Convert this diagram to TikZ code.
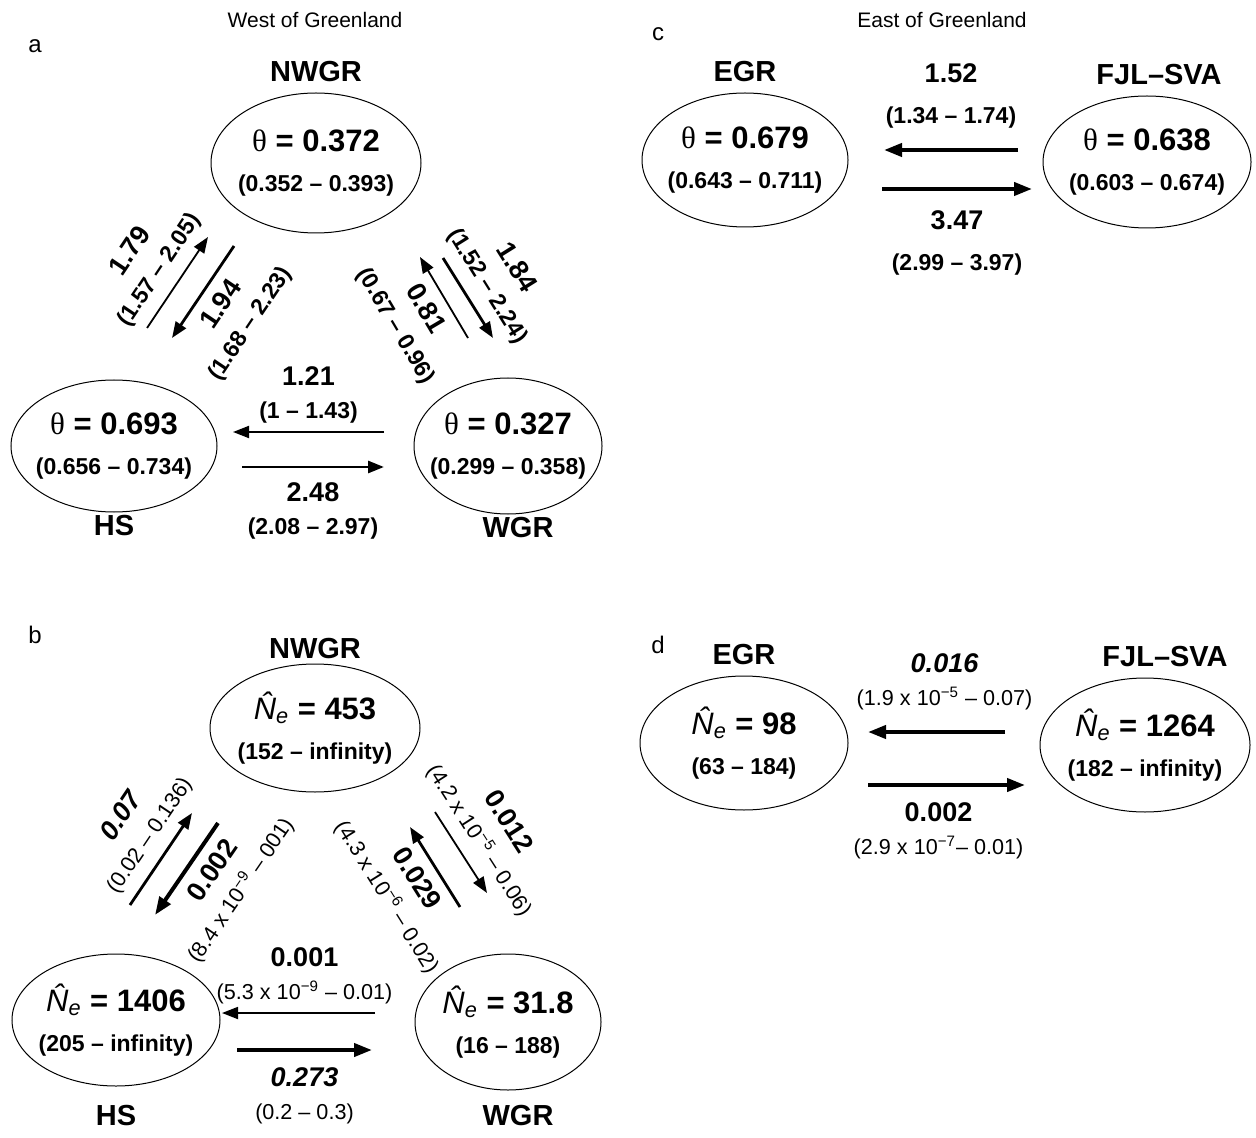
\documentclass[tikz,border=0pt]{standalone}
\usepackage{fontspec}
\setmainfont{Liberation Sans}
\newfontfamily\grkfont{Liberation Serif}
\usetikzlibrary{shapes.geometric, arrows.meta, positioning, calc}

\newcommand{\nehat}{{\mdseries\itshape\^{N}\textsubscript{e}}}
\newcommand{\thetasym}{{\mdseries\grkfont θ}}
\newcommand{\rngb}[1]{{\fontsize{11.5}{16}\selectfont\bfseries #1}}
\newcommand{\rngn}[1]{{\fontsize{10.8}{16}\selectfont\mdseries #1}}
\newcommand{\tenp}[1]{10\textsuperscript{#1}}

\begin{document}
\begin{tikzpicture}[
    x=0.5pt, y=-0.5pt,
    pop/.style={ellipse, draw=black, line width=0.5pt, inner sep=-8pt, align=center, font=\fontsize{15.5}{20}\selectfont\bfseries},
    popname/.style={font=\fontsize{14.5}{16}\selectfont\bfseries, inner sep=1pt},
    region/.style={font=\fontsize{10.5}{12}\selectfont},
    panel/.style={font=\fontsize{12}{14}\selectfont},
    rate/.style={align=center, inner sep=2pt, font=\fontsize{13.5}{16.5}\selectfont\bfseries},
    flow/.style={-{Triangle[length=9pt,width=6.5pt]}, line width=2pt},
    midflow/.style={-{Triangle[length=8pt,width=6pt]}, line width=1.4pt},
    weakflow/.style={-{Triangle[length=8pt,width=6pt]}, line width=0.9pt}
  ]
  \useasboundingbox (0,0) rectangle (1256,1138);

  % headings
  \node[region] (west) at (315,20) {West of Greenland};
  \node[region] (east) at (942,20) {East of Greenland};
  \node[panel] (pa) at (35,46) {a};
  \node[panel] (pb) at (35,635) {b};
  \node[panel] (pc) at (658,34) {c};
  \node[panel] (pd) at (658,645) {d};

  % panel a
  \node[pop, minimum width=105pt, minimum height=70pt] (nwgrA) at (316,163) {\thetasym{} = 0.372\\\rngb{(0.352 -- 0.393)}};
  \node[pop, minimum width=103pt, minimum height=66pt] (hsA) at (114,446) {\thetasym{} = 0.693\\\rngb{(0.656 -- 0.734)}};
  \node[pop, minimum width=94pt, minimum height=68pt] (wgrA) at (508,446) {\thetasym{} = 0.327\\\rngb{(0.299 -- 0.358)}};
  \node[popname, above=4pt of nwgrA] (nwgrAlab) {NWGR};
  \node[popname, below=0pt of hsA] (hsAlab) {HS};
  \node[popname, below=0pt of wgrA, xshift=5pt] (wgrAlab) {WGR};

  \coordinate (ta1) at (147,328); \coordinate (ha1) at (208,237);
  \coordinate (ta2) at (234,246); \coordinate (ha2) at (172,338);
  \coordinate (ta3) at (468,338); \coordinate (ha3) at (420,257);
  \coordinate (ta4) at (443,258); \coordinate (ha4) at (493,338);
  \coordinate (ta5) at (384,432); \coordinate (ha5) at (233,432);
  \coordinate (ta6) at (242,467); \coordinate (ha6) at (384,467);

  \draw[weakflow] (ta1) -- node[rate, sloped, above, inner sep=5pt] {1.79\\\rngb{(1.57 -- 2.05)}} (ha1);
  \draw[midflow] (ta2) -- node[rate, sloped, below, inner sep=5pt] {1.94\\\rngb{(1.68 -- 2.23)}} (ha2);
  \draw[weakflow] (ta3) -- node[rate, sloped, below, inner sep=5pt] {0.81\\\rngb{(0.67 -- 0.96)}} (ha3);
  \draw[midflow] (ta4) -- node[rate, sloped, above, inner sep=5pt] {1.84\\\rngb{(1.52 -- 2.24)}} (ha4);
  \draw[weakflow] (ta5) -- node[rate, above=2pt] {1.21\\\rngb{(1 -- 1.43)}} (ha5);
  \draw[midflow] (ta6) -- node[rate, below=5pt] {2.48\\\rngb{(2.08 -- 2.97)}} (ha6);

  % panel c
  \node[pop, minimum width=103pt, minimum height=67pt] (egrC) at (745,160) {\thetasym{} = 0.679\\\rngb{(0.643 -- 0.711)}};
  \node[pop, minimum width=104pt, minimum height=66pt] (fjlC) at (1147,162) {\thetasym{} = 0.638\\\rngb{(0.603 -- 0.674)}};
  \node[popname, above=4pt of egrC] (egrClab) {EGR};
  \node[popname, above=4pt of fjlC, xshift=6pt] (fjlClab) {FJL--SVA};

  \coordinate (tc1) at (1018,150); \coordinate (hc1) at (884,150);
  \coordinate (tc2) at (882,189); \coordinate (hc2) at (1032,189);

  \draw[flow] (tc1) -- node[rate, above=8pt] {1.52\\[4pt]\rngb{(1.34 -- 1.74)}} (hc1);
  \draw[flow] (tc2) -- node[rate, below=8pt] {3.47\\[4pt]\rngb{(2.99 -- 3.97)}} (hc2);

  % panel b
  \node[pop, minimum width=105pt, minimum height=64pt] (nwgrB) at (315,728) {\nehat{} = 453\\\rngb{(152 -- infinity)}};
  \node[pop, minimum width=104pt, minimum height=66pt] (hsB) at (116,1020) {\nehat{} = 1406\\\rngb{(205 -- infinity)}};
  \node[pop, minimum width=93pt, minimum height=68pt] (wgrB) at (508,1022) {\nehat{} = 31.8\\\rngb{(16 -- 188)}};
  \node[popname, above=1pt of nwgrB] (nwgrBlab) {NWGR};
  \node[popname, below=8pt of hsB] (hsBlab) {HS};
  \node[popname, below=6pt of wgrB, xshift=5pt] (wgrBlab) {WGR};

  \coordinate (tb1) at (130,905); \coordinate (hb1) at (192,813);
  \coordinate (tb2) at (218,823); \coordinate (hb2) at (155,915);
  \coordinate (tb3) at (460,907); \coordinate (hb3) at (410,827);
  \coordinate (tb4) at (435,812); \coordinate (hb4) at (487,893);
  \coordinate (tb5) at (375,1013); \coordinate (hb5) at (222,1013);
  \coordinate (tb6) at (237,1050); \coordinate (hb6) at (372,1050);

  \draw[midflow] (tb1) -- node[rate, sloped, above, inner sep=5pt, pos=0.62] {\itshape 0.07\\\rngn{(0.02 -- 0.136)}} (hb1);
  \draw[flow] (tb2) -- node[rate, sloped, below, inner sep=5pt, pos=0.38] {0.002\\\rngn{(8.4 x \tenp{−9} -- 001)}} (hb2);
  \draw[midflow] (tb3) -- node[rate, sloped, below, inner sep=5pt] {0.029\\\rngn{(4.3 x \tenp{−6} -- 0.02)}} (hb3);
  \draw[weakflow] (tb4) -- node[rate, sloped, above, inner sep=5pt] {0.012\\\rngn{(4.2 x \tenp{−5} -- 0.06)}} (hb4);
  \draw[weakflow] (tb5) -- node[rate, above=2pt, xshift=3pt] {0.001\\\rngn{(5.3 x \tenp{−9} -- 0.01)}} (hb5);
  \draw[flow] (tb6) -- node[rate, below=6pt] {\itshape 0.273\\\rngn{(0.2 -- 0.3)}} (hb6);

  % panel d
  \node[pop, minimum width=104pt, minimum height=67pt] (egrD) at (744,743) {\nehat{} = 98\\\rngb{(63 -- 184)}};
  \node[pop, minimum width=105pt, minimum height=67pt] (fjlD) at (1145,745) {\nehat{} = 1264\\\rngb{(182 -- infinity)}};
  \node[popname, above=4pt of egrD] (egrDlab) {EGR};
  \node[popname, above=4pt of fjlD, xshift=10pt] (fjlDlab) {FJL--SVA};

  \coordinate (td1) at (1005,732); \coordinate (hd1) at (868,732);
  \coordinate (td2) at (868,785); \coordinate (hd2) at (1025,785);

  \draw[flow] (td1) -- node[rate, above=8pt, xshift=4pt] {\itshape 0.016\\\rngn{(1.9 x \tenp{−5} -- 0.07)}} (hd1);
  \draw[flow] (td2) -- node[rate, below=6pt, xshift=-4pt] {0.002\\\rngn{(2.9 x \tenp{−7}-- 0.01)}} (hd2);
\end{tikzpicture}
\end{document}
